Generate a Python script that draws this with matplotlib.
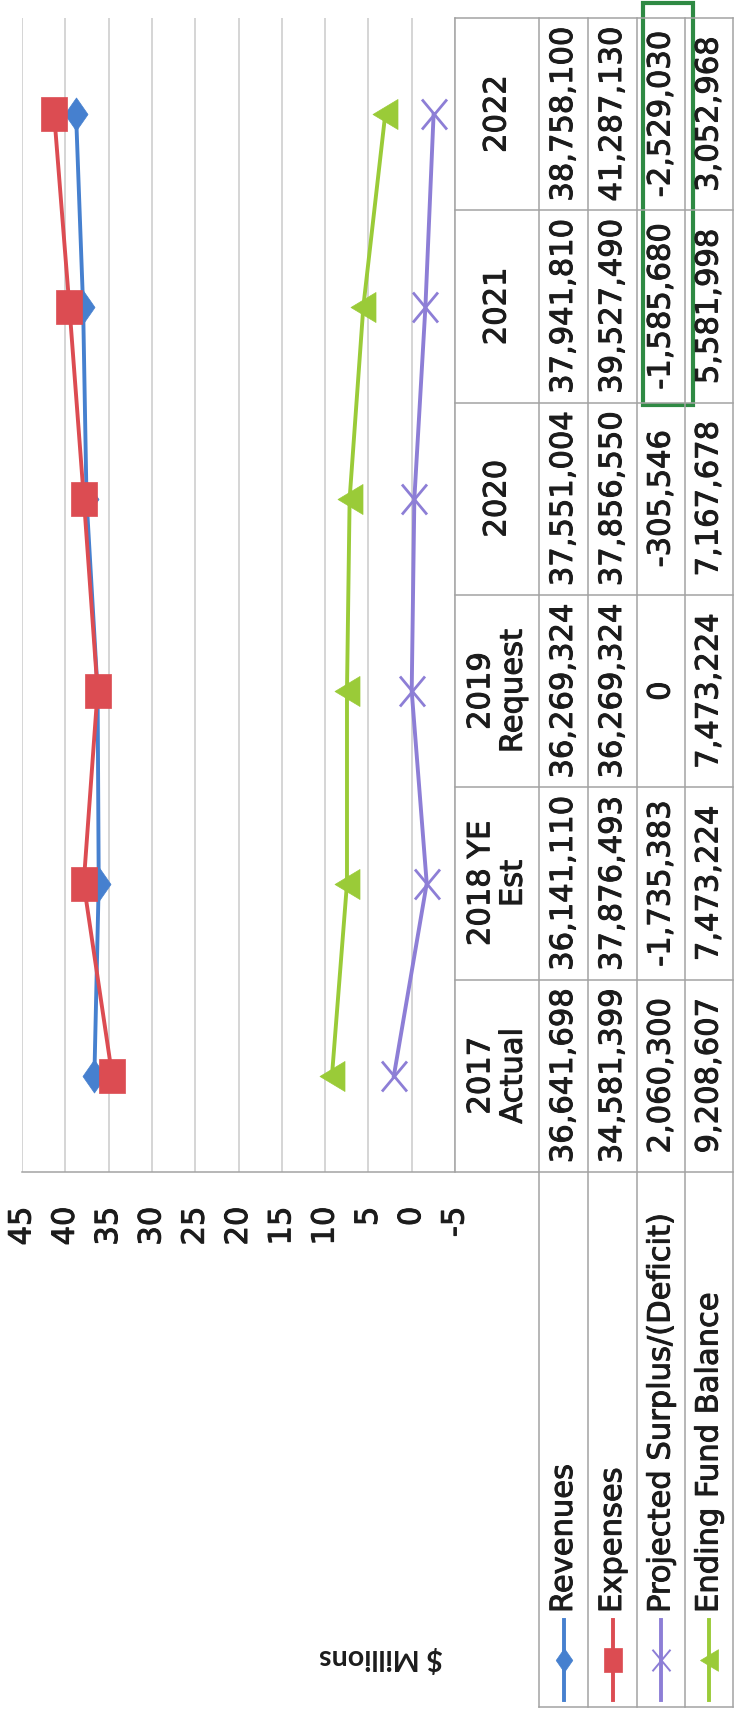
import matplotlib
matplotlib.use("Agg")
import matplotlib.pyplot as plt
from matplotlib.path import Path
from matplotlib.lines import Line2D
from matplotlib.patches import Rectangle
from matplotlib.transforms import blended_transform_factory
import matplotlib.patheffects as pe

# ---------------- data ----------------
categories = ["2017\nActual", "2018 YE\nEst", "2019\nRequest", "2020", "2021", "2022"]
series_names = ["Revenues", "Expenses", "Projected Surplus/(Deficit)", "Ending Fund Balance"]
revenues = [36641698, 36141110, 36269324, 37551004, 37941810, 38758100]
expenses = [34581399, 37876493, 36269324, 37856550, 39527490, 41287130]
surplus = [2060300, -1735383, 0, -305546, -1585680, -2529030]
ending_balance = [9208607, 7473224, 7473224, 7167678, 5581998, 3052968]
value_ticks = [45, 40, 35, 30, 25, 20, 15, 10, 5, 0, -5]
axis_title = "$ Millions"
highlight_series = "Projected Surplus/(Deficit)"
highlight_categories = ["2021", "2022"]

# ---------------- style ----------------
W, H = 734, 1711
colors = ["#4680cf", "#dc4c52", "#8d7ed6", "#9acb38"]
FONT = "DejaVu Sans"
FS = 22
TXT = "#1c1c1c"
GRID = "#d2d2d2"
TLINE = "#a3a3a3"
HEAVY = [pe.withStroke(linewidth=0.7, foreground=TXT)]

def fx(px):
    return px / W

def fy(py):
    return 1 - py / H

# custom (stretched) markers, shape only
sq = Path([(-12.5, -16.5), (12.5, -16.5), (12.5, 16.5), (-12.5, 16.5), (-12.5, -16.5)],
          [Path.MOVETO, Path.LINETO, Path.LINETO, Path.LINETO, Path.CLOSEPOLY])
dia = Path([(0, -16.5), (11.5, 0), (0, 16.5), (-11.5, 0), (0, -16.5)],
           [Path.MOVETO, Path.LINETO, Path.LINETO, Path.LINETO, Path.CLOSEPOLY])
tri = Path([(-12.5, 0), (12.5, 15), (12.5, -15), (-12.5, 0)],
           [Path.MOVETO, Path.LINETO, Path.LINETO, Path.CLOSEPOLY])
xm = Path([(-12.5, -15), (12.5, 15), (-12.5, 15), (12.5, -15)],
          [Path.MOVETO, Path.LINETO, Path.MOVETO, Path.LINETO])
markers = [dia, sq, xm, tri]
msizes = [23.8, 23.8, 21.6, 21.6]

fig = plt.figure(figsize=(W / 100, H / 100), dpi=100)
fig.patch.set_facecolor("white")

ax_left, ax_right, ax_top, ax_bot = 22, 455, 18, 1172
ax = fig.add_axes([fx(ax_left), fy(ax_bot), fx(ax_right) - fx(ax_left), (ax_bot - ax_top) / H])
ax.set_xlim(45, -5)
ax.set_ylim(-0.5, len(categories) - 0.5)
for s in ax.spines.values():
    s.set_visible(False)
ax.set_xticks(value_ticks)
ax.set_xticklabels([str(v) for v in value_ticks])
ax.set_yticks([])
ax.tick_params(axis="x", length=0, pad=25, labelsize=FS, labelrotation=90,
               labelcolor=TXT)
for lab in ax.get_xticklabels():
    lab.set_fontfamily(FONT)
    lab.set_path_effects(HEAVY)
ax.grid(axis="x", color=GRID, lw=1.3)
ax.set_axisbelow(True)

ypos = list(range(len(categories)))
all_series = [revenues, expenses, surplus, ending_balance]
for i, vals in enumerate(all_series):
    mill = [v / 1e6 for v in vals]
    ax.plot(mill, ypos, color=colors[i], lw=2.8, marker=markers[i], ms=msizes[i],
            mfc=colors[i] if i != 2 else "none", mec=colors[i],
            mew=2.0 if i == 2 else 0.5, zorder=3 + i, clip_on=False)

# ---------------- data table ----------------
bt = blended_transform_factory(fig.transFigure, ax.transData)
hdr_x0, hdr_x1 = 455, 539
row_edges = [539, 588, 637, 685, 733]
row_centers = [(row_edges[k] + row_edges[k + 1]) / 2 for k in range(4)]
n = len(categories)

for b in range(n + 1):
    yb = b - 0.5
    x0 = ax_left if b == 0 else hdr_x0
    fig.add_artist(Line2D([fx(x0), fx(733)], [yb, yb], transform=bt,
                          color=TLINE, lw=1.1))
fig.add_artist(Line2D([fx(hdr_x0), fx(hdr_x0)], [-0.5, n - 0.5], transform=bt,
                      color=TLINE, lw=1.1))
for xe in row_edges:
    fig.add_artist(Line2D([fx(xe), fx(xe)], [fy(ax_top), fy(1707)],
                          transform=fig.transFigure, color=TLINE, lw=1.1))
fig.add_artist(Line2D([fx(row_edges[0]), fx(733)], [fy(1707), fy(1707)],
                      transform=fig.transFigure, color=TLINE, lw=1.1))

for j, c in enumerate(categories):
    fig.text(fx((hdr_x0 + hdr_x1) / 2), j, c, transform=bt, rotation=90,
             ha="center", va="center", multialignment="center",
             fontsize=FS, family=FONT, color=TXT, linespacing=1.15,
             path_effects=HEAVY)

for i, vals in enumerate(all_series):
    for j, v in enumerate(vals):
        fig.text(fx(row_centers[i]), j, f"{v:,}", transform=bt, rotation=90,
                 ha="center", va="center", fontsize=FS, family=FONT, color=TXT,
                 path_effects=HEAVY)

for i, name in enumerate(series_names):
    xc = fx(row_centers[i])
    fig.text(xc, fy(1613), name, rotation=90, ha="center", va="bottom",
             fontsize=FS, family=FONT, color=TXT, path_effects=HEAVY)
    fig.add_artist(Line2D([xc, xc], [fy(1620), fy(1700)], transform=fig.transFigure,
                          color=colors[i], lw=2.8))
    fig.add_artist(Line2D([xc], [fy(1660)], transform=fig.transFigure,
                          marker=markers[i], ms=msizes[i] * 0.72, color=colors[i],
                          mfc=colors[i] if i != 2 else "none", mec=colors[i],
                          mew=1.4 if i == 2 else 0.5, lw=0))

hi = series_names.index(highlight_series)
js = [j for j, c in enumerate(categories) if c in highlight_categories]
y0 = min(js) - 0.51
y1 = max(js) + 0.58
fig.add_artist(Rectangle((fx(row_edges[hi] + 6), y0),
                         fx(row_edges[hi + 1] + 8) - fx(row_edges[hi] + 6),
                         y1 - y0, transform=bt, fill=False, ec="#2f8a44", lw=3))

fig.text(fx(381), fy(1657), axis_title, rotation=180, ha="center", va="center",
         fontsize=20.5, family="Lato", fontweight="bold", color=TXT)

fig.savefig("out.png", dpi=100, facecolor="white")
